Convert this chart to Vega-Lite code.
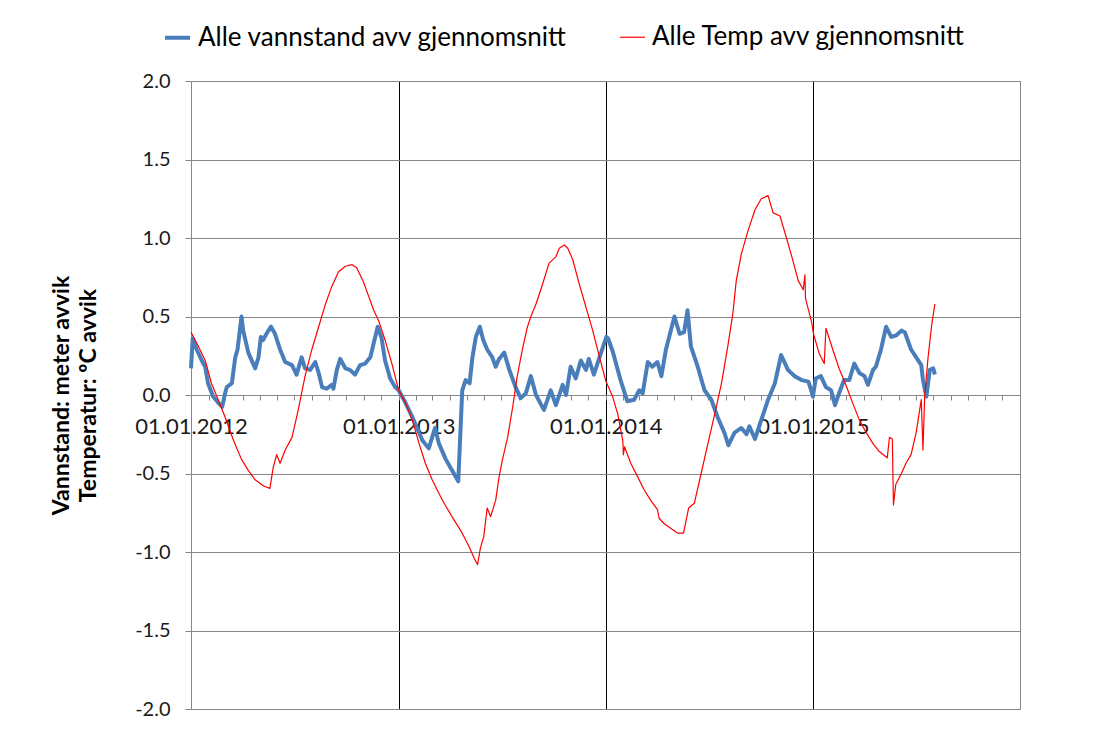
{
  "$schema": "https://vega.github.io/schema/vega-lite/v6.json",
  "width": 829,
  "height": 628,
  "autosize": {"type": "none"},
  "padding": {"left": 191, "top": 81, "right": 94, "bottom": 20},
  "background": "white",
  "config": {
    "font": "Lato",
    "view": {"stroke": "#868686", "strokeWidth": 1}
  },
  "data": {"values": [
    {"dato":"2012-01-01","serie":"Alle vannstand avv gjennomsnitt","verdi":0.17},
    {"dato":"2012-01-04","serie":"Alle vannstand avv gjennomsnitt","verdi":0.36},
    {"dato":"2012-01-11","serie":"Alle vannstand avv gjennomsnitt","verdi":0.29},
    {"dato":"2012-01-20","serie":"Alle vannstand avv gjennomsnitt","verdi":0.22},
    {"dato":"2012-01-26","serie":"Alle vannstand avv gjennomsnitt","verdi":0.18},
    {"dato":"2012-01-31","serie":"Alle vannstand avv gjennomsnitt","verdi":0.075},
    {"dato":"2012-02-09","serie":"Alle vannstand avv gjennomsnitt","verdi":-0.01},
    {"dato":"2012-02-18","serie":"Alle vannstand avv gjennomsnitt","verdi":-0.05},
    {"dato":"2012-02-25","serie":"Alle vannstand avv gjennomsnitt","verdi":-0.075},
    {"dato":"2012-03-01","serie":"Alle vannstand avv gjennomsnitt","verdi":0.01},
    {"dato":"2012-03-04","serie":"Alle vannstand avv gjennomsnitt","verdi":0.05},
    {"dato":"2012-03-13","serie":"Alle vannstand avv gjennomsnitt","verdi":0.075},
    {"dato":"2012-03-19","serie":"Alle vannstand avv gjennomsnitt","verdi":0.24},
    {"dato":"2012-03-23","serie":"Alle vannstand avv gjennomsnitt","verdi":0.29},
    {"dato":"2012-03-30","serie":"Alle vannstand avv gjennomsnitt","verdi":0.5},
    {"dato":"2012-04-02","serie":"Alle vannstand avv gjennomsnitt","verdi":0.41},
    {"dato":"2012-04-11","serie":"Alle vannstand avv gjennomsnitt","verdi":0.27},
    {"dato":"2012-04-23","serie":"Alle vannstand avv gjennomsnitt","verdi":0.17},
    {"dato":"2012-04-29","serie":"Alle vannstand avv gjennomsnitt","verdi":0.24},
    {"dato":"2012-05-03","serie":"Alle vannstand avv gjennomsnitt","verdi":0.37},
    {"dato":"2012-05-07","serie":"Alle vannstand avv gjennomsnitt","verdi":0.35},
    {"dato":"2012-05-13","serie":"Alle vannstand avv gjennomsnitt","verdi":0.39},
    {"dato":"2012-05-21","serie":"Alle vannstand avv gjennomsnitt","verdi":0.435},
    {"dato":"2012-05-28","serie":"Alle vannstand avv gjennomsnitt","verdi":0.39},
    {"dato":"2012-06-06","serie":"Alle vannstand avv gjennomsnitt","verdi":0.29},
    {"dato":"2012-06-15","serie":"Alle vannstand avv gjennomsnitt","verdi":0.21},
    {"dato":"2012-06-27","serie":"Alle vannstand avv gjennomsnitt","verdi":0.19},
    {"dato":"2012-07-05","serie":"Alle vannstand avv gjennomsnitt","verdi":0.13},
    {"dato":"2012-07-14","serie":"Alle vannstand avv gjennomsnitt","verdi":0.24},
    {"dato":"2012-07-20","serie":"Alle vannstand avv gjennomsnitt","verdi":0.17},
    {"dato":"2012-07-29","serie":"Alle vannstand avv gjennomsnitt","verdi":0.16},
    {"dato":"2012-08-07","serie":"Alle vannstand avv gjennomsnitt","verdi":0.21},
    {"dato":"2012-08-13","serie":"Alle vannstand avv gjennomsnitt","verdi":0.14},
    {"dato":"2012-08-19","serie":"Alle vannstand avv gjennomsnitt","verdi":0.05},
    {"dato":"2012-08-27","serie":"Alle vannstand avv gjennomsnitt","verdi":0.04},
    {"dato":"2012-09-05","serie":"Alle vannstand avv gjennomsnitt","verdi":0.065},
    {"dato":"2012-09-08","serie":"Alle vannstand avv gjennomsnitt","verdi":0.04},
    {"dato":"2012-09-14","serie":"Alle vannstand avv gjennomsnitt","verdi":0.16},
    {"dato":"2012-09-20","serie":"Alle vannstand avv gjennomsnitt","verdi":0.23},
    {"dato":"2012-09-29","serie":"Alle vannstand avv gjennomsnitt","verdi":0.17},
    {"dato":"2012-10-07","serie":"Alle vannstand avv gjennomsnitt","verdi":0.16},
    {"dato":"2012-10-16","serie":"Alle vannstand avv gjennomsnitt","verdi":0.13},
    {"dato":"2012-10-25","serie":"Alle vannstand avv gjennomsnitt","verdi":0.19},
    {"dato":"2012-11-03","serie":"Alle vannstand avv gjennomsnitt","verdi":0.2},
    {"dato":"2012-11-12","serie":"Alle vannstand avv gjennomsnitt","verdi":0.24},
    {"dato":"2012-11-18","serie":"Alle vannstand avv gjennomsnitt","verdi":0.33},
    {"dato":"2012-11-25","serie":"Alle vannstand avv gjennomsnitt","verdi":0.435},
    {"dato":"2012-12-02","serie":"Alle vannstand avv gjennomsnitt","verdi":0.36},
    {"dato":"2012-12-08","serie":"Alle vannstand avv gjennomsnitt","verdi":0.22},
    {"dato":"2012-12-17","serie":"Alle vannstand avv gjennomsnitt","verdi":0.105},
    {"dato":"2012-12-26","serie":"Alle vannstand avv gjennomsnitt","verdi":0.05},
    {"dato":"2013-01-01","serie":"Alle vannstand avv gjennomsnitt","verdi":0.03},
    {"dato":"2013-01-07","serie":"Alle vannstand avv gjennomsnitt","verdi":-0.01},
    {"dato":"2013-01-13","serie":"Alle vannstand avv gjennomsnitt","verdi":-0.05},
    {"dato":"2013-01-25","serie":"Alle vannstand avv gjennomsnitt","verdi":-0.14},
    {"dato":"2013-02-12","serie":"Alle vannstand avv gjennomsnitt","verdi":-0.29},
    {"dato":"2013-02-23","serie":"Alle vannstand avv gjennomsnitt","verdi":-0.34},
    {"dato":"2013-03-06","serie":"Alle vannstand avv gjennomsnitt","verdi":-0.21},
    {"dato":"2013-03-13","serie":"Alle vannstand avv gjennomsnitt","verdi":-0.31},
    {"dato":"2013-03-25","serie":"Alle vannstand avv gjennomsnitt","verdi":-0.41},
    {"dato":"2013-04-05","serie":"Alle vannstand avv gjennomsnitt","verdi":-0.48},
    {"dato":"2013-04-16","serie":"Alle vannstand avv gjennomsnitt","verdi":-0.55},
    {"dato":"2013-04-20","serie":"Alle vannstand avv gjennomsnitt","verdi":-0.22},
    {"dato":"2013-04-23","serie":"Alle vannstand avv gjennomsnitt","verdi":0.03},
    {"dato":"2013-04-29","serie":"Alle vannstand avv gjennomsnitt","verdi":0.095},
    {"dato":"2013-05-06","serie":"Alle vannstand avv gjennomsnitt","verdi":0.075},
    {"dato":"2013-05-11","serie":"Alle vannstand avv gjennomsnitt","verdi":0.24},
    {"dato":"2013-05-17","serie":"Alle vannstand avv gjennomsnitt","verdi":0.37},
    {"dato":"2013-05-24","serie":"Alle vannstand avv gjennomsnitt","verdi":0.435},
    {"dato":"2013-05-30","serie":"Alle vannstand avv gjennomsnitt","verdi":0.35},
    {"dato":"2013-06-06","serie":"Alle vannstand avv gjennomsnitt","verdi":0.29},
    {"dato":"2013-06-15","serie":"Alle vannstand avv gjennomsnitt","verdi":0.24},
    {"dato":"2013-06-21","serie":"Alle vannstand avv gjennomsnitt","verdi":0.18},
    {"dato":"2013-06-27","serie":"Alle vannstand avv gjennomsnitt","verdi":0.23},
    {"dato":"2013-07-06","serie":"Alle vannstand avv gjennomsnitt","verdi":0.27},
    {"dato":"2013-07-15","serie":"Alle vannstand avv gjennomsnitt","verdi":0.16},
    {"dato":"2013-07-26","serie":"Alle vannstand avv gjennomsnitt","verdi":0.05},
    {"dato":"2013-08-04","serie":"Alle vannstand avv gjennomsnitt","verdi":-0.02},
    {"dato":"2013-08-13","serie":"Alle vannstand avv gjennomsnitt","verdi":0.01},
    {"dato":"2013-08-22","serie":"Alle vannstand avv gjennomsnitt","verdi":0.12},
    {"dato":"2013-08-31","serie":"Alle vannstand avv gjennomsnitt","verdi":0.0},
    {"dato":"2013-09-14","serie":"Alle vannstand avv gjennomsnitt","verdi":-0.095},
    {"dato":"2013-09-26","serie":"Alle vannstand avv gjennomsnitt","verdi":0.03},
    {"dato":"2013-10-05","serie":"Alle vannstand avv gjennomsnitt","verdi":-0.065},
    {"dato":"2013-10-17","serie":"Alle vannstand avv gjennomsnitt","verdi":0.065},
    {"dato":"2013-10-23","serie":"Alle vannstand avv gjennomsnitt","verdi":0.0},
    {"dato":"2013-10-31","serie":"Alle vannstand avv gjennomsnitt","verdi":0.18},
    {"dato":"2013-11-09","serie":"Alle vannstand avv gjennomsnitt","verdi":0.105},
    {"dato":"2013-11-18","serie":"Alle vannstand avv gjennomsnitt","verdi":0.22},
    {"dato":"2013-11-27","serie":"Alle vannstand avv gjennomsnitt","verdi":0.16},
    {"dato":"2013-12-02","serie":"Alle vannstand avv gjennomsnitt","verdi":0.23},
    {"dato":"2013-12-11","serie":"Alle vannstand avv gjennomsnitt","verdi":0.13},
    {"dato":"2013-12-20","serie":"Alle vannstand avv gjennomsnitt","verdi":0.23},
    {"dato":"2014-01-02","serie":"Alle vannstand avv gjennomsnitt","verdi":0.37},
    {"dato":"2014-01-05","serie":"Alle vannstand avv gjennomsnitt","verdi":0.36},
    {"dato":"2014-01-13","serie":"Alle vannstand avv gjennomsnitt","verdi":0.28},
    {"dato":"2014-01-27","serie":"Alle vannstand avv gjennomsnitt","verdi":0.095},
    {"dato":"2014-02-08","serie":"Alle vannstand avv gjennomsnitt","verdi":-0.04},
    {"dato":"2014-02-20","serie":"Alle vannstand avv gjennomsnitt","verdi":-0.03},
    {"dato":"2014-03-01","serie":"Alle vannstand avv gjennomsnitt","verdi":0.03},
    {"dato":"2014-03-07","serie":"Alle vannstand avv gjennomsnitt","verdi":0.01},
    {"dato":"2014-03-16","serie":"Alle vannstand avv gjennomsnitt","verdi":0.21},
    {"dato":"2014-03-24","serie":"Alle vannstand avv gjennomsnitt","verdi":0.18},
    {"dato":"2014-04-02","serie":"Alle vannstand avv gjennomsnitt","verdi":0.21},
    {"dato":"2014-04-09","serie":"Alle vannstand avv gjennomsnitt","verdi":0.12},
    {"dato":"2014-04-17","serie":"Alle vannstand avv gjennomsnitt","verdi":0.29},
    {"dato":"2014-05-02","serie":"Alle vannstand avv gjennomsnitt","verdi":0.5},
    {"dato":"2014-05-11","serie":"Alle vannstand avv gjennomsnitt","verdi":0.39},
    {"dato":"2014-05-19","serie":"Alle vannstand avv gjennomsnitt","verdi":0.4},
    {"dato":"2014-05-25","serie":"Alle vannstand avv gjennomsnitt","verdi":0.54},
    {"dato":"2014-05-31","serie":"Alle vannstand avv gjennomsnitt","verdi":0.31},
    {"dato":"2014-06-12","serie":"Alle vannstand avv gjennomsnitt","verdi":0.18},
    {"dato":"2014-06-24","serie":"Alle vannstand avv gjennomsnitt","verdi":0.03},
    {"dato":"2014-07-06","serie":"Alle vannstand avv gjennomsnitt","verdi":-0.03},
    {"dato":"2014-07-17","serie":"Alle vannstand avv gjennomsnitt","verdi":-0.14},
    {"dato":"2014-07-29","serie":"Alle vannstand avv gjennomsnitt","verdi":-0.24},
    {"dato":"2014-08-05","serie":"Alle vannstand avv gjennomsnitt","verdi":-0.32},
    {"dato":"2014-08-16","serie":"Alle vannstand avv gjennomsnitt","verdi":-0.24},
    {"dato":"2014-08-28","serie":"Alle vannstand avv gjennomsnitt","verdi":-0.21},
    {"dato":"2014-09-06","serie":"Alle vannstand avv gjennomsnitt","verdi":-0.25},
    {"dato":"2014-09-11","serie":"Alle vannstand avv gjennomsnitt","verdi":-0.2},
    {"dato":"2014-09-21","serie":"Alle vannstand avv gjennomsnitt","verdi":-0.28},
    {"dato":"2014-10-02","serie":"Alle vannstand avv gjennomsnitt","verdi":-0.16},
    {"dato":"2014-10-14","serie":"Alle vannstand avv gjennomsnitt","verdi":-0.03},
    {"dato":"2014-10-26","serie":"Alle vannstand avv gjennomsnitt","verdi":0.075},
    {"dato":"2014-11-06","serie":"Alle vannstand avv gjennomsnitt","verdi":0.255},
    {"dato":"2014-11-18","serie":"Alle vannstand avv gjennomsnitt","verdi":0.16},
    {"dato":"2014-11-30","serie":"Alle vannstand avv gjennomsnitt","verdi":0.12},
    {"dato":"2014-12-12","serie":"Alle vannstand avv gjennomsnitt","verdi":0.095},
    {"dato":"2014-12-24","serie":"Alle vannstand avv gjennomsnitt","verdi":0.085},
    {"dato":"2014-12-29","serie":"Alle vannstand avv gjennomsnitt","verdi":0.03},
    {"dato":"2015-01-01","serie":"Alle vannstand avv gjennomsnitt","verdi":-0.01},
    {"dato":"2015-01-06","serie":"Alle vannstand avv gjennomsnitt","verdi":0.105},
    {"dato":"2015-01-15","serie":"Alle vannstand avv gjennomsnitt","verdi":0.12},
    {"dato":"2015-01-24","serie":"Alle vannstand avv gjennomsnitt","verdi":0.05},
    {"dato":"2015-02-02","serie":"Alle vannstand avv gjennomsnitt","verdi":0.03},
    {"dato":"2015-02-09","serie":"Alle vannstand avv gjennomsnitt","verdi":-0.065},
    {"dato":"2015-02-16","serie":"Alle vannstand avv gjennomsnitt","verdi":0.01},
    {"dato":"2015-02-25","serie":"Alle vannstand avv gjennomsnitt","verdi":0.095},
    {"dato":"2015-03-06","serie":"Alle vannstand avv gjennomsnitt","verdi":0.095},
    {"dato":"2015-03-15","serie":"Alle vannstand avv gjennomsnitt","verdi":0.2},
    {"dato":"2015-03-24","serie":"Alle vannstand avv gjennomsnitt","verdi":0.14},
    {"dato":"2015-04-02","serie":"Alle vannstand avv gjennomsnitt","verdi":0.12},
    {"dato":"2015-04-08","serie":"Alle vannstand avv gjennomsnitt","verdi":0.065},
    {"dato":"2015-04-17","serie":"Alle vannstand avv gjennomsnitt","verdi":0.16},
    {"dato":"2015-04-22","serie":"Alle vannstand avv gjennomsnitt","verdi":0.18},
    {"dato":"2015-05-01","serie":"Alle vannstand avv gjennomsnitt","verdi":0.29},
    {"dato":"2015-05-10","serie":"Alle vannstand avv gjennomsnitt","verdi":0.435},
    {"dato":"2015-05-19","serie":"Alle vannstand avv gjennomsnitt","verdi":0.37},
    {"dato":"2015-05-28","serie":"Alle vannstand avv gjennomsnitt","verdi":0.38},
    {"dato":"2015-06-06","serie":"Alle vannstand avv gjennomsnitt","verdi":0.41},
    {"dato":"2015-06-12","serie":"Alle vannstand avv gjennomsnitt","verdi":0.4},
    {"dato":"2015-06-23","serie":"Alle vannstand avv gjennomsnitt","verdi":0.29},
    {"dato":"2015-07-02","serie":"Alle vannstand avv gjennomsnitt","verdi":0.24},
    {"dato":"2015-07-11","serie":"Alle vannstand avv gjennomsnitt","verdi":0.19},
    {"dato":"2015-07-14","serie":"Alle vannstand avv gjennomsnitt","verdi":0.095},
    {"dato":"2015-07-20","serie":"Alle vannstand avv gjennomsnitt","verdi":-0.01},
    {"dato":"2015-07-26","serie":"Alle vannstand avv gjennomsnitt","verdi":0.16},
    {"dato":"2015-08-01","serie":"Alle vannstand avv gjennomsnitt","verdi":0.17},
    {"dato":"2015-08-04","serie":"Alle vannstand avv gjennomsnitt","verdi":0.13},

    {"dato":"2012-01-01","serie":"Alle Temp avv gjennomsnitt","verdi":0.4},
    {"dato":"2012-01-14","serie":"Alle Temp avv gjennomsnitt","verdi":0.31},
    {"dato":"2012-01-26","serie":"Alle Temp avv gjennomsnitt","verdi":0.22},
    {"dato":"2012-02-06","serie":"Alle Temp avv gjennomsnitt","verdi":0.075},
    {"dato":"2012-02-18","serie":"Alle Temp avv gjennomsnitt","verdi":-0.03},
    {"dato":"2012-03-01","serie":"Alle Temp avv gjennomsnitt","verdi":-0.14},
    {"dato":"2012-03-16","serie":"Alle Temp avv gjennomsnitt","verdi":-0.29},
    {"dato":"2012-03-30","serie":"Alle Temp avv gjennomsnitt","verdi":-0.41},
    {"dato":"2012-04-11","serie":"Alle Temp avv gjennomsnitt","verdi":-0.48},
    {"dato":"2012-04-23","serie":"Alle Temp avv gjennomsnitt","verdi":-0.54},
    {"dato":"2012-05-08","serie":"Alle Temp avv gjennomsnitt","verdi":-0.58},
    {"dato":"2012-05-19","serie":"Alle Temp avv gjennomsnitt","verdi":-0.595},
    {"dato":"2012-05-25","serie":"Alle Temp avv gjennomsnitt","verdi":-0.46},
    {"dato":"2012-05-31","serie":"Alle Temp avv gjennomsnitt","verdi":-0.38},
    {"dato":"2012-06-06","serie":"Alle Temp avv gjennomsnitt","verdi":-0.435},
    {"dato":"2012-06-15","serie":"Alle Temp avv gjennomsnitt","verdi":-0.35},
    {"dato":"2012-06-27","serie":"Alle Temp avv gjennomsnitt","verdi":-0.27},
    {"dato":"2012-07-08","serie":"Alle Temp avv gjennomsnitt","verdi":-0.095},
    {"dato":"2012-07-20","serie":"Alle Temp avv gjennomsnitt","verdi":0.12},
    {"dato":"2012-08-01","serie":"Alle Temp avv gjennomsnitt","verdi":0.29},
    {"dato":"2012-08-13","serie":"Alle Temp avv gjennomsnitt","verdi":0.435},
    {"dato":"2012-08-25","serie":"Alle Temp avv gjennomsnitt","verdi":0.58},
    {"dato":"2012-09-05","serie":"Alle Temp avv gjennomsnitt","verdi":0.69},
    {"dato":"2012-09-17","serie":"Alle Temp avv gjennomsnitt","verdi":0.785},
    {"dato":"2012-09-29","serie":"Alle Temp avv gjennomsnitt","verdi":0.82},
    {"dato":"2012-10-11","serie":"Alle Temp avv gjennomsnitt","verdi":0.83},
    {"dato":"2012-10-19","serie":"Alle Temp avv gjennomsnitt","verdi":0.81},
    {"dato":"2012-10-31","serie":"Alle Temp avv gjennomsnitt","verdi":0.72},
    {"dato":"2012-11-09","serie":"Alle Temp avv gjennomsnitt","verdi":0.63},
    {"dato":"2012-11-18","serie":"Alle Temp avv gjennomsnitt","verdi":0.54},
    {"dato":"2012-11-27","serie":"Alle Temp avv gjennomsnitt","verdi":0.47},
    {"dato":"2012-12-08","serie":"Alle Temp avv gjennomsnitt","verdi":0.35},
    {"dato":"2012-12-20","serie":"Alle Temp avv gjennomsnitt","verdi":0.2},
    {"dato":"2013-01-01","serie":"Alle Temp avv gjennomsnitt","verdi":0.03},
    {"dato":"2013-01-13","serie":"Alle Temp avv gjennomsnitt","verdi":-0.05},
    {"dato":"2013-01-25","serie":"Alle Temp avv gjennomsnitt","verdi":-0.16},
    {"dato":"2013-02-06","serie":"Alle Temp avv gjennomsnitt","verdi":-0.31},
    {"dato":"2013-02-17","serie":"Alle Temp avv gjennomsnitt","verdi":-0.435},
    {"dato":"2013-03-01","serie":"Alle Temp avv gjennomsnitt","verdi":-0.54},
    {"dato":"2013-03-19","serie":"Alle Temp avv gjennomsnitt","verdi":-0.67},
    {"dato":"2013-04-05","serie":"Alle Temp avv gjennomsnitt","verdi":-0.775},
    {"dato":"2013-04-23","serie":"Alle Temp avv gjennomsnitt","verdi":-0.88},
    {"dato":"2013-05-05","serie":"Alle Temp avv gjennomsnitt","verdi":-0.965},
    {"dato":"2013-05-14","serie":"Alle Temp avv gjennomsnitt","verdi":-1.04},
    {"dato":"2013-05-20","serie":"Alle Temp avv gjennomsnitt","verdi":-1.08},
    {"dato":"2013-05-25","serie":"Alle Temp avv gjennomsnitt","verdi":-0.975},
    {"dato":"2013-05-31","serie":"Alle Temp avv gjennomsnitt","verdi":-0.9},
    {"dato":"2013-06-06","serie":"Alle Temp avv gjennomsnitt","verdi":-0.72},
    {"dato":"2013-06-12","serie":"Alle Temp avv gjennomsnitt","verdi":-0.775},
    {"dato":"2013-06-21","serie":"Alle Temp avv gjennomsnitt","verdi":-0.67},
    {"dato":"2013-06-27","serie":"Alle Temp avv gjennomsnitt","verdi":-0.52},
    {"dato":"2013-07-03","serie":"Alle Temp avv gjennomsnitt","verdi":-0.41},
    {"dato":"2013-07-12","serie":"Alle Temp avv gjennomsnitt","verdi":-0.27},
    {"dato":"2013-07-21","serie":"Alle Temp avv gjennomsnitt","verdi":-0.075},
    {"dato":"2013-07-29","serie":"Alle Temp avv gjennomsnitt","verdi":0.12},
    {"dato":"2013-08-07","serie":"Alle Temp avv gjennomsnitt","verdi":0.29},
    {"dato":"2013-08-16","serie":"Alle Temp avv gjennomsnitt","verdi":0.435},
    {"dato":"2013-08-22","serie":"Alle Temp avv gjennomsnitt","verdi":0.5},
    {"dato":"2013-08-31","serie":"Alle Temp avv gjennomsnitt","verdi":0.58},
    {"dato":"2013-09-12","serie":"Alle Temp avv gjennomsnitt","verdi":0.71},
    {"dato":"2013-09-23","serie":"Alle Temp avv gjennomsnitt","verdi":0.84},
    {"dato":"2013-10-05","serie":"Alle Temp avv gjennomsnitt","verdi":0.88},
    {"dato":"2013-10-11","serie":"Alle Temp avv gjennomsnitt","verdi":0.935},
    {"dato":"2013-10-20","serie":"Alle Temp avv gjennomsnitt","verdi":0.955},
    {"dato":"2013-10-26","serie":"Alle Temp avv gjennomsnitt","verdi":0.935},
    {"dato":"2013-11-04","serie":"Alle Temp avv gjennomsnitt","verdi":0.86},
    {"dato":"2013-11-15","serie":"Alle Temp avv gjennomsnitt","verdi":0.71},
    {"dato":"2013-11-27","serie":"Alle Temp avv gjennomsnitt","verdi":0.56},
    {"dato":"2013-12-09","serie":"Alle Temp avv gjennomsnitt","verdi":0.41},
    {"dato":"2013-12-21","serie":"Alle Temp avv gjennomsnitt","verdi":0.24},
    {"dato":"2014-01-01","serie":"Alle Temp avv gjennomsnitt","verdi":0.09},
    {"dato":"2014-01-13","serie":"Alle Temp avv gjennomsnitt","verdi":-0.01},
    {"dato":"2014-01-22","serie":"Alle Temp avv gjennomsnitt","verdi":-0.12},
    {"dato":"2014-01-31","serie":"Alle Temp avv gjennomsnitt","verdi":-0.29},
    {"dato":"2014-02-01","serie":"Alle Temp avv gjennomsnitt","verdi":-0.38},
    {"dato":"2014-02-03","serie":"Alle Temp avv gjennomsnitt","verdi":-0.33},
    {"dato":"2014-02-14","serie":"Alle Temp avv gjennomsnitt","verdi":-0.435},
    {"dato":"2014-02-26","serie":"Alle Temp avv gjennomsnitt","verdi":-0.52},
    {"dato":"2014-03-09","serie":"Alle Temp avv gjennomsnitt","verdi":-0.6},
    {"dato":"2014-03-21","serie":"Alle Temp avv gjennomsnitt","verdi":-0.67},
    {"dato":"2014-04-02","serie":"Alle Temp avv gjennomsnitt","verdi":-0.73},
    {"dato":"2014-04-05","serie":"Alle Temp avv gjennomsnitt","verdi":-0.785},
    {"dato":"2014-04-14","serie":"Alle Temp avv gjennomsnitt","verdi":-0.82},
    {"dato":"2014-04-26","serie":"Alle Temp avv gjennomsnitt","verdi":-0.85},
    {"dato":"2014-05-08","serie":"Alle Temp avv gjennomsnitt","verdi":-0.88},
    {"dato":"2014-05-18","serie":"Alle Temp avv gjennomsnitt","verdi":-0.88},
    {"dato":"2014-05-27","serie":"Alle Temp avv gjennomsnitt","verdi":-0.72},
    {"dato":"2014-06-06","serie":"Alle Temp avv gjennomsnitt","verdi":-0.69},
    {"dato":"2014-06-18","serie":"Alle Temp avv gjennomsnitt","verdi":-0.5},
    {"dato":"2014-06-30","serie":"Alle Temp avv gjennomsnitt","verdi":-0.31},
    {"dato":"2014-07-12","serie":"Alle Temp avv gjennomsnitt","verdi":-0.12},
    {"dato":"2014-07-24","serie":"Alle Temp avv gjennomsnitt","verdi":0.075},
    {"dato":"2014-08-04","serie":"Alle Temp avv gjennomsnitt","verdi":0.31},
    {"dato":"2014-08-13","serie":"Alle Temp avv gjennomsnitt","verdi":0.52},
    {"dato":"2014-08-19","serie":"Alle Temp avv gjennomsnitt","verdi":0.73},
    {"dato":"2014-08-28","serie":"Alle Temp avv gjennomsnitt","verdi":0.9},
    {"dato":"2014-09-09","serie":"Alle Temp avv gjennomsnitt","verdi":1.05},
    {"dato":"2014-09-21","serie":"Alle Temp avv gjennomsnitt","verdi":1.18},
    {"dato":"2014-10-02","serie":"Alle Temp avv gjennomsnitt","verdi":1.25},
    {"dato":"2014-10-14","serie":"Alle Temp avv gjennomsnitt","verdi":1.27},
    {"dato":"2014-10-23","serie":"Alle Temp avv gjennomsnitt","verdi":1.16},
    {"dato":"2014-11-04","serie":"Alle Temp avv gjennomsnitt","verdi":1.14},
    {"dato":"2014-11-13","serie":"Alle Temp avv gjennomsnitt","verdi":1.03},
    {"dato":"2014-11-25","serie":"Alle Temp avv gjennomsnitt","verdi":0.88},
    {"dato":"2014-12-06","serie":"Alle Temp avv gjennomsnitt","verdi":0.73},
    {"dato":"2014-12-15","serie":"Alle Temp avv gjennomsnitt","verdi":0.67},
    {"dato":"2014-12-18","serie":"Alle Temp avv gjennomsnitt","verdi":0.765},
    {"dato":"2014-12-19","serie":"Alle Temp avv gjennomsnitt","verdi":0.615},
    {"dato":"2014-12-30","serie":"Alle Temp avv gjennomsnitt","verdi":0.46},
    {"dato":"2015-01-02","serie":"Alle Temp avv gjennomsnitt","verdi":0.39},
    {"dato":"2015-01-12","serie":"Alle Temp avv gjennomsnitt","verdi":0.265},
    {"dato":"2015-01-21","serie":"Alle Temp avv gjennomsnitt","verdi":0.2},
    {"dato":"2015-01-24","serie":"Alle Temp avv gjennomsnitt","verdi":0.425},
    {"dato":"2015-02-05","serie":"Alle Temp avv gjennomsnitt","verdi":0.29},
    {"dato":"2015-02-16","serie":"Alle Temp avv gjennomsnitt","verdi":0.17},
    {"dato":"2015-02-28","serie":"Alle Temp avv gjennomsnitt","verdi":0.065},
    {"dato":"2015-03-12","serie":"Alle Temp avv gjennomsnitt","verdi":-0.05},
    {"dato":"2015-03-24","serie":"Alle Temp avv gjennomsnitt","verdi":-0.16},
    {"dato":"2015-04-05","serie":"Alle Temp avv gjennomsnitt","verdi":-0.24},
    {"dato":"2015-04-17","serie":"Alle Temp avv gjennomsnitt","verdi":-0.31},
    {"dato":"2015-04-28","serie":"Alle Temp avv gjennomsnitt","verdi":-0.36},
    {"dato":"2015-05-12","serie":"Alle Temp avv gjennomsnitt","verdi":-0.4},
    {"dato":"2015-05-16","serie":"Alle Temp avv gjennomsnitt","verdi":-0.27},
    {"dato":"2015-05-21","serie":"Alle Temp avv gjennomsnitt","verdi":-0.28},
    {"dato":"2015-05-23","serie":"Alle Temp avv gjennomsnitt","verdi":-0.7},
    {"dato":"2015-05-27","serie":"Alle Temp avv gjennomsnitt","verdi":-0.57},
    {"dato":"2015-06-06","serie":"Alle Temp avv gjennomsnitt","verdi":-0.5},
    {"dato":"2015-06-14","serie":"Alle Temp avv gjennomsnitt","verdi":-0.435},
    {"dato":"2015-06-23","serie":"Alle Temp avv gjennomsnitt","verdi":-0.38},
    {"dato":"2015-07-02","serie":"Alle Temp avv gjennomsnitt","verdi":-0.24},
    {"dato":"2015-07-11","serie":"Alle Temp avv gjennomsnitt","verdi":-0.03},
    {"dato":"2015-07-14","serie":"Alle Temp avv gjennomsnitt","verdi":-0.35},
    {"dato":"2015-07-17","serie":"Alle Temp avv gjennomsnitt","verdi":-0.01},
    {"dato":"2015-07-23","serie":"Alle Temp avv gjennomsnitt","verdi":0.24},
    {"dato":"2015-07-29","serie":"Alle Temp avv gjennomsnitt","verdi":0.435},
    {"dato":"2015-08-04","serie":"Alle Temp avv gjennomsnitt","verdi":0.58}
  ]},
  "mark": {"type": "line", "strokeJoin": "round"},
  "encoding": {
    "x": {
      "field": "dato",
      "type": "temporal",
      "scale": {"type": "utc", "domain": ["2012-01-01", "2016-01-01"]},
      "axis": {
        "title": null,
        "offset": -314,
        "tickCount": {"interval": "month", "step": 1},
        "labelExpr": "utcmonth(datum.value) === 0 && utcyear(datum.value) < 2016 ? utcFormat(datum.value, '%d.%m.%Y') : ''",
        "labelOverlap": false,
        "labelFlush": false,
        "labelBound": false,
        "labelFontSize": 22,
        "labelColor": "#1a1a1a",
        "labelPadding": 16,
        "tickSize": 5,
        "tickColor": "#868686",
        "domainColor": "#868686",
        "grid": true,
        "gridColor": "#000000",
        "gridWidth": 1,
        "gridOpacity": {"condition": {"test": "utcmonth(datum.value) === 0 && utcyear(datum.value) > 2012 && utcyear(datum.value) < 2016", "value": 1}, "value": 0}
      }
    },
    "y": {
      "field": "verdi",
      "type": "quantitative",
      "scale": {"domain": [-2, 2], "nice": false},
      "axis": {
        "title": ["Vannstand: meter avvik", "Temperatur: ºC  avvik"],
        "titleFontSize": 23,
        "titleLineHeight": 27,
        "titleFontWeight": "bold",
        "titleColor": "#000000",
        "titlePadding": 34,
        "values": [-2, -1.5, -1, -0.5, 0, 0.5, 1, 1.5, 2],
        "labelExpr": "replace(format(datum.value, '.1f'), '\u2212', '-')",
        "labelFontSize": 20,
        "labelColor": "#1a1a1a",
        "labelPadding": 15,
        "tickSize": 6,
        "tickColor": "#868686",
        "domainColor": "#868686",
        "gridColor": "#868686",
        "gridWidth": 1
      }
    },
    "color": {
      "field": "serie",
      "type": "nominal",
      "scale": {"domain": ["Alle vannstand avv gjennomsnitt", "Alle Temp avv gjennomsnitt"], "range": ["#4A7EBB", "#FF0000"]},
      "legend": {
        "title": null,
        "orient": "none",
        "legendX": -28,
        "legendY": -58,
        "direction": "horizontal",
        "symbolType": "stroke",
        "symbolSize": 625,
        "labelFontSize": 26,
        "labelLimit": 0,
        "labelColor": "#000000",
        "labelOffset": 6,
        "columnPadding": 49
      }
    },
    "strokeWidth": {
      "field": "serie",
      "type": "nominal",
      "scale": {"domain": ["Alle vannstand avv gjennomsnitt", "Alle Temp avv gjennomsnitt"], "range": [4, 1.2]},
      "legend": null
    }
  }
}
